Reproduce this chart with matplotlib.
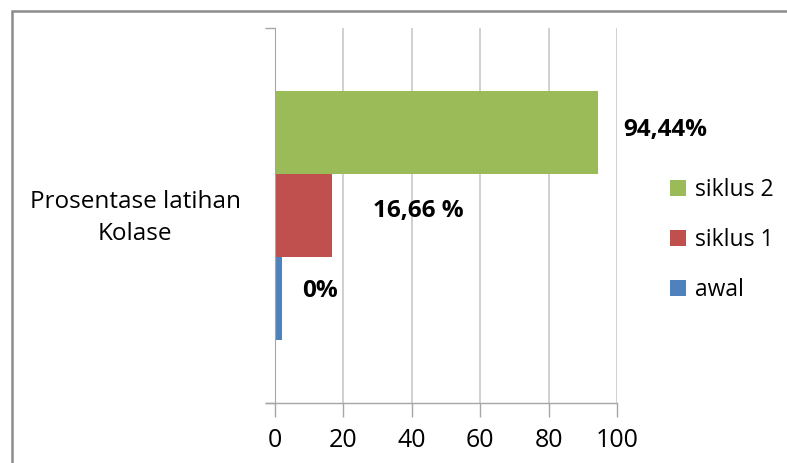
import matplotlib
matplotlib.use("Agg")
import matplotlib.pyplot as plt
from matplotlib.patches import Rectangle

category = "Prosentase latihan\nKolase"
series = ["awal", "siklus 1", "siklus 2"]
values = [2, 16.66, 94.44]
labels = ["0%", "16,66 %", "94,44%"]
colors = ["#4f81bd", "#c0504d", "#9bbb59"]
xticks = [0, 20, 40, 60, 80, 100]

plt.rcParams['font.family'] = ['Open Sans', 'DejaVu Sans']

W, H = 787, 463
fig = plt.figure(figsize=(W / 100, H / 100), dpi=100)

# outer frame (top and left edges visible)
fig.patches.append(Rectangle((12 / W, -0.05), 1.2, 1 - 11 / H + 0.05,
                             transform=fig.transFigure, fill=False,
                             edgecolor="#8c8c8c", linewidth=1.8))

ax = fig.add_axes([275 / W, 1 - 403 / H, (617 - 275) / W, (403 - 28) / H])

bar_h = 83 / 375
offsets = [-bar_h, 0, bar_h]
for name, v, c, off in zip(series, values, colors, offsets):
    ax.barh(0.5 + off, v, height=bar_h, color=c, label=name)

ax.set_xlim(0, 100)
ax.set_ylim(0, 1)
ax.set_xticks(xticks)
ax.set_xticklabels([str(t) for t in xticks], fontsize=18)
ax.set_yticks([0, 1])
ax.set_yticklabels([])
ax.tick_params(axis="y", length=7, color="#a6a6a6", width=1)
ax.tick_params(axis="x", length=10, color="#a6a6a6", width=1, pad=8)
ax.grid(axis="x", color="#c8c8c8", linewidth=1.2)
ax.set_axisbelow(True)
for s in ["top", "right", "bottom"]:
    ax.spines[s].set_visible(False)
ax.spines["left"].set_color("#a6a6a6")
ax.axhline(0, xmin=-0.025, xmax=1, color="#a6a6a6", linewidth=1, clip_on=False)

# category label
fig.text(135 / W, 1 - 218 / H, category, ha="center", va="center",
         fontsize=17.5, linespacing=1.5)

# value labels
label_pos = [(302, 291), (373, 211), (623, 130)]
for (px, py), t in zip(label_pos, labels):
    fig.text(px / W, 1 - py / H, t, ha="left", va="center",
             fontsize=17.5, fontweight="bold")

handles, names = ax.get_legend_handles_labels()
fig.legend(handles[::-1], names[::-1], loc="center left",
           bbox_to_anchor=(670 / W, 1 - 240 / H), frameon=False,
           borderpad=0, borderaxespad=0,
           fontsize=16.5, handlelength=0.7, handleheight=0.7,
           handletextpad=0.4, labelspacing=1.15)

fig.savefig("out.png", dpi=100)
